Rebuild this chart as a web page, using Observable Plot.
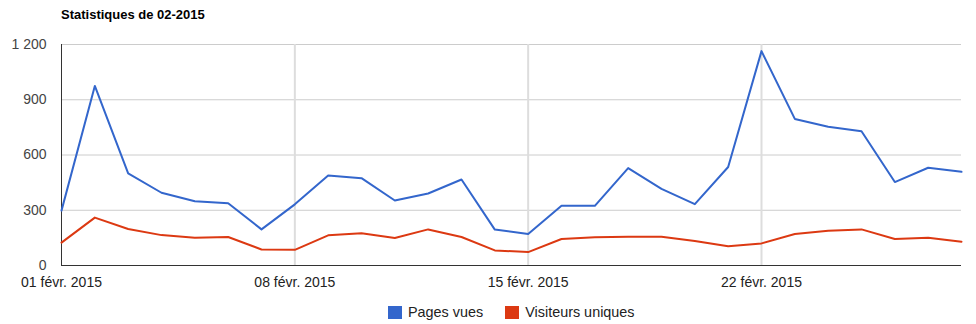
<!DOCTYPE html>
<html><head><meta charset="utf-8">
<script src="https://cdn.jsdelivr.net/npm/d3@7"></script>
<script src="https://cdn.jsdelivr.net/npm/@observablehq/plot@0.6"></script>
<style>
body{margin:0;background:#fff;font-family:Arial,"Liberation Sans",sans-serif;}
#title{height:30px;line-height:30px;padding-left:61px;font-weight:bold;font-size:13px;color:#000;}
#legend{height:24px;display:flex;align-items:center;font-size:14.4px;color:#222;padding-left:388px;}
.sw{display:inline-block;width:14px;height:13px;margin-right:6px;}
.item{display:flex;align-items:center;margin-right:22px;}
</style></head>
<body>
<div id="title">Statistiques de 02-2015</div>
<div id="chart"></div>
<div id="legend"></div>
<script>
const days = d3.range(1, 29);
const pagesVues = [298,975,500,395,349,338,196,332,489,474,353,391,467,195,171,324,324,529,416,333,535,1164,796,753,729,453,531,509];
const visiteurs = [124,260,198,165,151,155,87,85,164,175,149,196,155,82,73,144,153,156,156,133,104,120,171,189,196,144,151,129];
const seriesNames = ["Pages vues", "Visiteurs uniques"];
const colors = ["#3366cc", "#dc3912"];
const xTicks = [1, 8, 15, 22];
const xTickLabels = ["01 févr. 2015", "08 févr. 2015", "15 févr. 2015", "22 févr. 2015"];
const yTicks = [0, 300, 600, 900, 1200];
const yTickLabels = ["0", "300", "600", "900", "1 200"];

const data = [];
days.forEach((d, i) => {
  data.push({day: d, value: pagesVues[i], series: seriesNames[0]});
  data.push({day: d, value: visiteurs[i], series: seriesNames[1]});
});

const chart = Plot.plot({
  width: 976, height: 270,
  marginLeft: 61, marginRight: 15, marginTop: 14, marginBottom: 35,
  style: {fontFamily: "Arial, 'Liberation Sans', sans-serif", fontSize: "14px", color: "#444", background: "#fff"},
  x: {domain: [1, 28], label: null},
  y: {domain: [0, 1200], label: null},
  color: {domain: seriesNames, range: colors},
  marks: [
    Plot.ruleY(yTicks.slice(1), {stroke: "#cccccc", strokeWidth: 1}),
    Plot.ruleX(xTicks.slice(1), {stroke: "#dddddd", strokeWidth: 2}),
    Plot.ruleX([1], {stroke: "#333", strokeWidth: 1}),
    Plot.ruleY([0], {stroke: "#333", strokeWidth: 1}),
    Plot.axisY({ticks: yTicks, tickSize: 0, tickPadding: 15, tickFormat: (d) => yTickLabels[yTicks.indexOf(d)], fontSize: 14, fill: "#444", label: null}),
    Plot.axisX({ticks: xTicks, tickSize: 0, tickPadding: 12, tickFormat: d => xTickLabels[xTicks.indexOf(d)], fontSize: 14, fill: "#222", label: null}),
    Plot.line(data, {x: "day", y: "value", z: "series", stroke: "series", strokeWidth: 2, strokeLinejoin: "round"})
  ]
});
document.getElementById("chart").appendChild(chart);

const legend = document.getElementById("legend");
seriesNames.forEach((n, i) => {
  const it = document.createElement("div");
  it.className = "item";
  it.innerHTML = `<span class="sw" style="background:${colors[i]}"></span><span>${n}</span>`;
  legend.appendChild(it);
});
</script>
</body></html>
